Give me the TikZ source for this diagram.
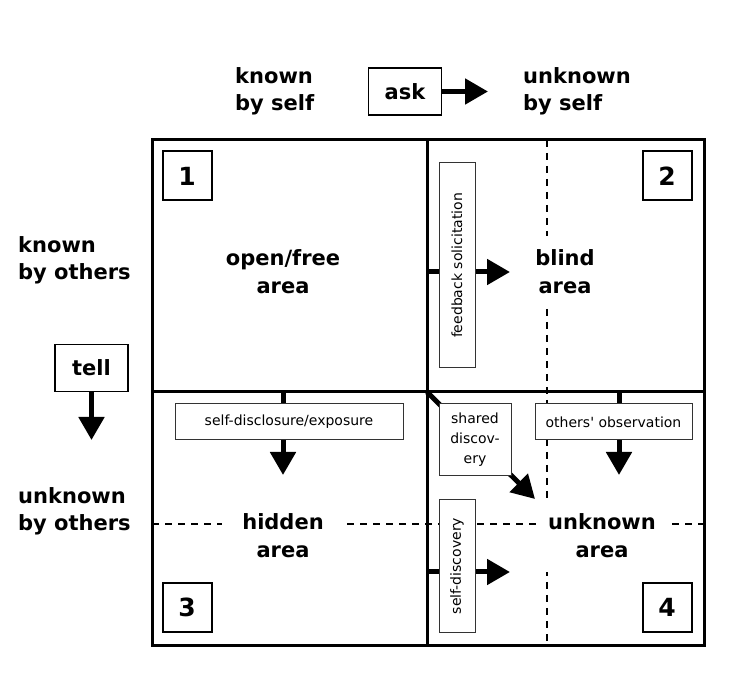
\documentclass[tikz,border=0pt]{standalone}
\usepackage{fontspec}
\setmainfont{DejaVu Sans}[Ligatures=TeXOff]
\usetikzlibrary{arrows.meta}

\tikzset{
  heavyarrow/.style={line width=5pt, -{Triangle[length=23pt,width=25pt]}},
  numbox/.style={draw, line width=2pt, fill=white, minimum size=49pt, inner sep=0pt, font=\fontsize{25}{30}\selectfont\bfseries},
  smallbox/.style={draw=black!80, line width=1pt, fill=white, inner sep=0pt, align=center, font=\fontsize{14}{20}\selectfont},
  arealabel/.style={fill=white, inner xsep=12pt, inner ysep=14pt, align=center, font=\fontsize{21}{28}\selectfont\bfseries},
  axislabel/.style={inner sep=0pt, anchor=west, align=left, font=\fontsize{21}{27}\selectfont\bfseries},
  actbox/.style={draw, line width=1.2pt, fill=white, minimum width=73pt, minimum height=47pt, inner sep=0pt, font=\fontsize{21}{27}\selectfont\bfseries},
  gridline/.style={line width=3pt},
  splitline/.style={line width=1.2pt, dash pattern=on 7pt off 6pt},
}

\begin{document}
\begin{tikzpicture}[x=1pt, y=-1pt]
  \useasboundingbox (0,0) rectangle (729,692);

  % Dashed split lines
  \draw[splitline] (547,140) -- (547,645);
  \draw[splitline] (152,524) -- (704,524);

  % Window frame
  \draw[gridline] (152,140) rectangle (704,645);
  \draw[gridline] (427,140) -- (427,645);
  \draw[gridline] (152,392) -- (704,392);

  % Axis labels
  \node[axislabel] (selfknown) at (235,91) {known\\by self};
  \node[axislabel] (selfunknown) at (523,91) {unknown\\by self};
  \node[axislabel] (othersknown) at (18,260) {known\\by others};
  \node[axislabel] (othersunknown) at (18,511) {unknown\\by others};

  % Ask / tell
  \node[actbox] (ask) at (405,91.5) {ask};
  \coordinate (asktip) at (488,91.5);
  \draw[heavyarrow] (ask.east) -- (asktip);
  \node[actbox] (tell) at (91.5,368) {tell};
  \coordinate (telltip) at (91.5,440);
  \draw[heavyarrow] (tell.south) -- (telltip);

  % Movement arrows
  \coordinate (fbstart) at (427,272);
  \coordinate (fbtip) at (510,272);
  \coordinate (sdstart) at (283,392);
  \coordinate (sdtip) at (283,475);
  \coordinate (oostart) at (619,392);
  \coordinate (ootip) at (619,475);
  \coordinate (shstart) at (427,392);
  \coordinate (shtip) at (535,499);
  \coordinate (sfstart) at (427,572);
  \coordinate (sftip) at (510,572);
  \draw[heavyarrow] (fbstart) -- (fbtip);
  \draw[heavyarrow] (sdstart) -- (sdtip);
  \draw[heavyarrow] (oostart) -- (ootip);
  \draw[heavyarrow] (shstart) -- (shtip);
  \draw[heavyarrow] (sfstart) -- (sftip);

  % Process boxes
  \node[smallbox, rotate=90, minimum width=205pt, minimum height=36pt] (feedback) at (457,265.5) {feedback solicitation};
  \node[smallbox, minimum width=228pt, minimum height=36pt] (disclosure) at (289,422) {self-disclosure/exposure};
  \node[smallbox, minimum width=157pt, minimum height=36pt] (observation) at (613.5,422) {others' observation};
  \node[smallbox, minimum width=72pt, minimum height=72pt] (shared) at (475,440) {shared\\discov-\\ery};
  \node[smallbox, rotate=90, minimum width=132pt, minimum height=36pt] (selfdisc) at (457,566) {self-discovery};

  % Area labels
  \node[arealabel] (openarea) at (283,272) {open/free\\area};
  \node[arealabel] (blindarea) at (565,272) {blind\\area};
  \node[arealabel, inner xsep=20pt] (hiddenarea) at (283,536) {hidden\\area};
  \node[arealabel, inner xsep=10pt] (unknownarea) at (602,536) {unknown\\area};

  % Quadrant numbers
  \foreach \n/\x/\y in {1/187/176, 2/667/176, 3/187/607.5, 4/667/607.5}
    \node[numbox] (num\n) at (\x,\y) {\n};
\end{tikzpicture}
\end{document}
